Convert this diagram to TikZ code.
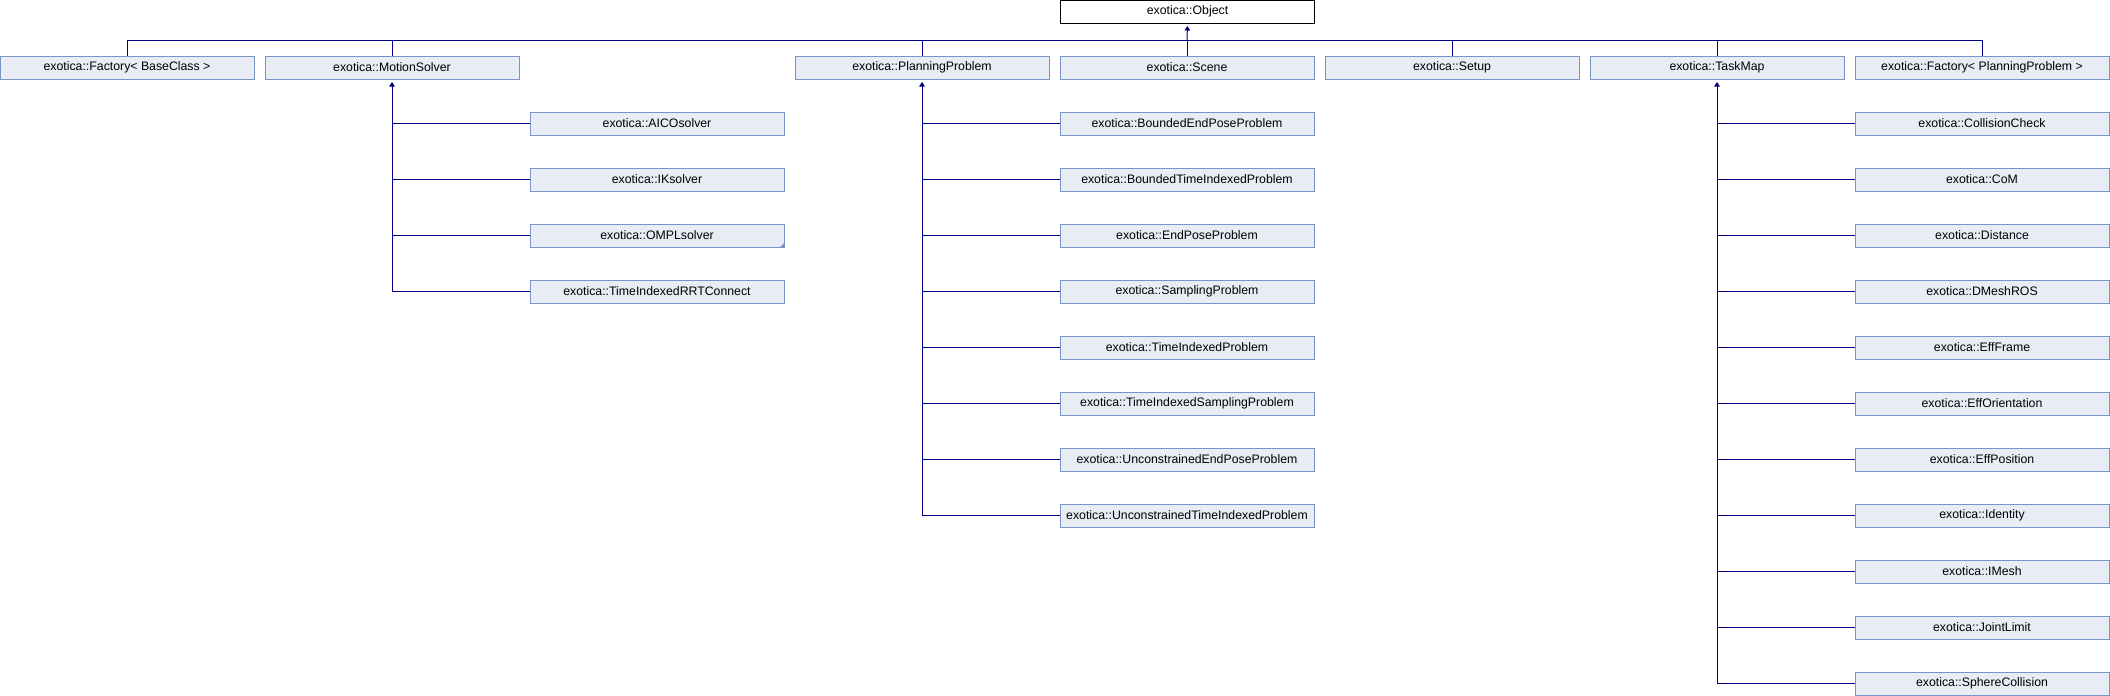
\documentclass[tikz,border=0pt]{standalone}
\usepackage{fontspec}
\setmainfont{Liberation Sans}
\usetikzlibrary{arrows.meta}
\definecolor{boxfill}{HTML}{E8ECF5}
\definecolor{boxline}{HTML}{7B93C9}
\definecolor{edgecol}{HTML}{000080}
\begin{document}
\begin{tikzpicture}[x=1pt,y=-1pt,
  cls/.style={draw=boxline, fill=boxfill, line width=1pt, minimum width=254pt, minimum height=23pt, inner sep=0pt,
     font=\fontsize{12.3}{14}\selectfont},
  root/.style={cls, draw=black, fill=white},
  edge/.style={draw=edgecol, line width=1pt},
  inh/.style={edge, {Triangle[length=4.5pt,width=5.5pt]}-, shorten <=2.5pt}
]
\useasboundingbox (0,0) rectangle (2110,696);
% root
\node[root] (obj) at (1187.5,11.5) {exotica::Object};
% row 1
\node[cls] (fbc) at (127,67.5) {exotica::Factory< BaseClass >};
\node[cls] (ms)  at (392,67.5) {exotica::MotionSolver};
\node[cls] (pp)  at (922,67.5) {exotica::PlanningProblem};
\node[cls] (sc)  at (1187,67.5) {exotica::Scene};
\node[cls] (su)  at (1452,67.5) {exotica::Setup};
\node[cls] (tm)  at (1717,67.5) {exotica::TaskMap};
\node[cls] (fpp) at (1982,67.5) {exotica::Factory< PlanningProblem >};
% motion solver children
\node[cls] (aico) at (657,123.5) {exotica::AICOsolver};
\node[cls] (iks)  at (657,179.5) {exotica::IKsolver};
\node[cls] (ompl) at (657,235.5) {exotica::OMPLsolver};
\node[cls] (rrt)  at (657,291.5) {exotica::TimeIndexedRRTConnect};
% planning problem children
\node[cls] (p1) at (1187,123.5) {exotica::BoundedEndPoseProblem};
\node[cls] (p2) at (1187,179.5) {exotica::BoundedTimeIndexedProblem};
\node[cls] (p3) at (1187,235.5) {exotica::EndPoseProblem};
\node[cls] (p4) at (1187,291.5) {exotica::SamplingProblem};
\node[cls] (p5) at (1187,347.5) {exotica::TimeIndexedProblem};
\node[cls] (p6) at (1187,403.5) {exotica::TimeIndexedSamplingProblem};
\node[cls] (p7) at (1187,459.5) {exotica::UnconstrainedEndPoseProblem};
\node[cls] (p8) at (1187,515.5) {exotica::UnconstrainedTimeIndexedProblem};
% task map children
\node[cls] (t1)  at (1982,123.5) {exotica::CollisionCheck};
\node[cls] (t2)  at (1982,179.5) {exotica::CoM};
\node[cls] (t3)  at (1982,235.5) {exotica::Distance};
\node[cls] (t4)  at (1982,291.5) {exotica::DMeshROS};
\node[cls] (t5)  at (1982,347.5) {exotica::EffFrame};
\node[cls] (t6)  at (1982,403.5) {exotica::EffOrientation};
\node[cls] (t7)  at (1982,459.5) {exotica::EffPosition};
\node[cls] (t8)  at (1982,515.5) {exotica::Identity};
\node[cls] (t9)  at (1982,571.5) {exotica::IMesh};
\node[cls] (t10) at (1982,627.5) {exotica::JointLimit};
\node[cls] (t11) at (1982,683.5) {exotica::SphereCollision};
% more-marker on OMPLsolver
\fill[boxline] (ompl.south east) -- ++(-5,0) -- ++(5,-5) -- cycle;
% bus to root
\coordinate (bus) at (1187,40.5);
\draw[edge] (fbc.north) |- (bus) -| (fpp.north);
\draw[edge] (ms.north) |- (bus);
\draw[edge] (pp.north) |- (bus);
\draw[edge] (sc.north) |- (bus);
\draw[edge] (su.north) |- (bus);
\draw[edge] (tm.north) |- (bus);
\draw[inh] (obj.south) -- (bus);
% motion solver tree
\draw[inh] (ms.south) |- (rrt.west);
\foreach \c in {aico,iks,ompl} \draw[edge] (\c.west) -- (\c.west -| ms.south);
% planning problem tree
\draw[inh] (pp.south) |- (p8.west);
\foreach \c in {p1,p2,p3,p4,p5,p6,p7} \draw[edge] (\c.west) -- (\c.west -| pp.south);
% task map tree
\draw[inh] (tm.south) |- (t11.west);
\foreach \c in {t1,t2,t3,t4,t5,t6,t7,t8,t9,t10} \draw[edge] (\c.west) -- (\c.west -| tm.south);
\end{tikzpicture}
\end{document}
